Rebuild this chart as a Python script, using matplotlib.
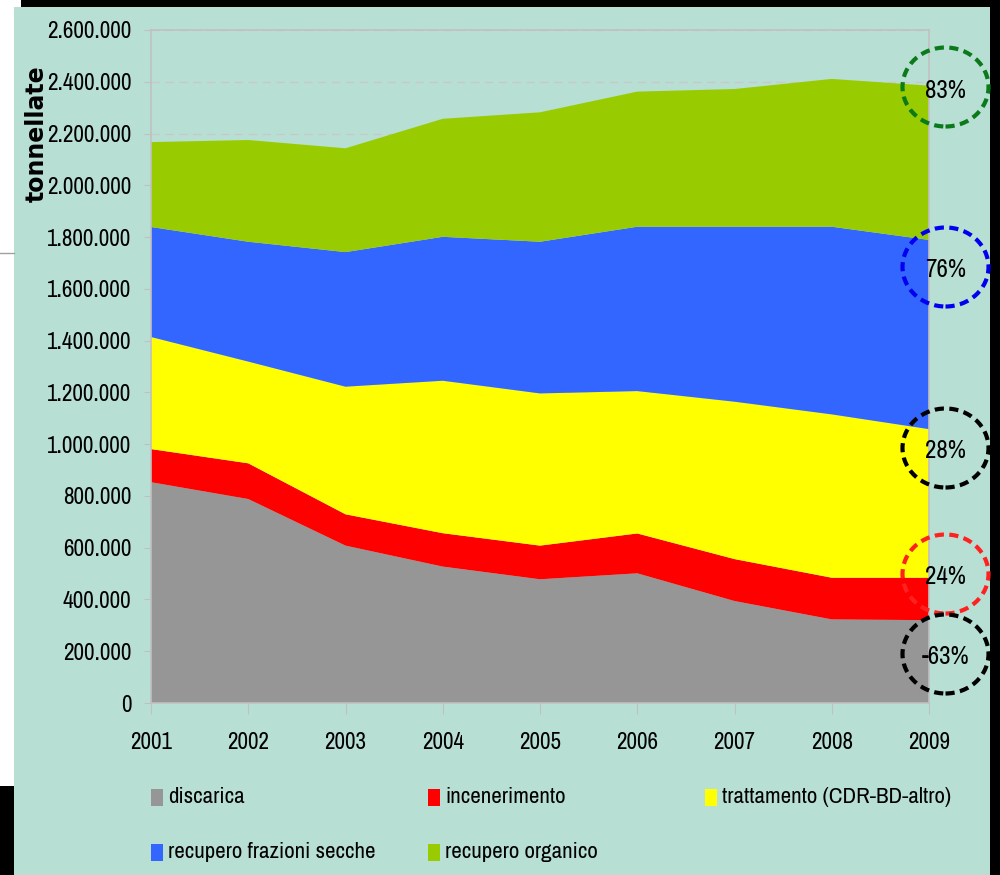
import matplotlib
matplotlib.use('Agg')
import matplotlib.pyplot as plt
from matplotlib import font_manager as fm
from matplotlib.font_manager import FontProperties
from matplotlib.textpath import TextPath
from matplotlib.patches import Rectangle, Ellipse
from matplotlib.lines import Line2D
from matplotlib.ticker import FuncFormatter, MultipleLocator

# ---- data (tonnellate) ----
years = [2001, 2002, 2003, 2004, 2005, 2006, 2007, 2008, 2009]
discarica = [853000, 788000, 608000, 527000, 478000, 501000, 394000, 323000, 320000]
incenerimento = [128000, 138000, 121000, 129000, 130000, 154000, 162000, 161000, 164000]
trattamento = [433000, 393000, 493000, 589000, 588000, 550000, 608000, 631000, 574000]
frazioni_secche = [425000, 463000, 520000, 556000, 586000, 635000, 676000, 725000, 731000]
organico = [328000, 393000, 401000, 456000, 500000, 522000, 532000, 571000, 596000]

series_labels = ["discarica", "incenerimento", "trattamento (CDR-BD-altro)",
                 "recupero frazioni secche", "recupero organico"]
series_colors = ["#969696", "#ff0000", "#ffff00", "#3366ff", "#99cc00"]

change_labels = ["83%", "76%", "28%", "24%", "-63%"]
change_colors = ["#0a7a1a", "#0000ee", "#000000", "#ff2020", "#000000"]

BG = '#b8dfd4'


# ---- pick a narrow / condensed sans font if one is installed ----
def pick_font(bold=False):
    want_w = 700 if bold else 400
    best = None
    best_score = -1
    for f in fm.fontManager.ttflist:
        name = f.name
        low = name.lower()
        if any(k in low for k in ('mono', 'serif', 'cjk', 'math', 'emoji', 'symbol')):
            if 'sans' not in low or 'mono' in low or 'cjk' in low:
                continue
        if f.style != 'normal':
            continue
        try:
            w = int(f.weight)
        except Exception:
            w = 700 if 'bold' in str(f.weight) else 400
        if abs(w - want_w) > 100:
            continue
        fname = f.fname.lower()
        score = 0
        if 'narrow' in low or 'narrow' in fname:
            score = 5
        elif 'condensed' in low or 'condensed' in fname:
            score = 4
            if 'semi' in fname or 'semi' in low:
                score = 3
            if 'extra' in fname or 'ultra' in fname:
                score = 2
        elif str(f.stretch) in ('condensed', 'semi-condensed'):
            score = 3
        if score > best_score:
            best_score = score
            best = f
    if best is not None and best_score > 0:
        return FontProperties(fname=best.fname)
    return FontProperties(family='DejaVu Sans', weight='bold' if bold else 'normal')


FP = pick_font(False)
FPB = FontProperties(family='DejaVu Sans', weight='bold')


def fit_size(text, target_px, fp, max_pt):
    tp = TextPath((0, 0), text, size=10, prop=fp)
    w10 = tp.get_extents().width  # in points at size 10
    size = 10 * (target_px * 72 / 100) / w10
    return min(size, max_pt)


W, H = 1000, 875
fig = plt.figure(figsize=(10, 8.75), dpi=100, facecolor='white')


def fx(px):
    return px / W


def fy(py):
    return 1 - py / H


# frame decorations
fig.add_artist(Rectangle((fx(14), 0), fx(990 - 14), (H - 7) / H, transform=fig.transFigure,
                         facecolor=BG, edgecolor='none', zorder=-5))
fig.add_artist(Rectangle((fx(21), fy(7)), fx(1000 - 21), 7 / H, transform=fig.transFigure,
                         facecolor='black', edgecolor='none', zorder=-4))
fig.add_artist(Rectangle((fx(990), 0), fx(10), 1, transform=fig.transFigure,
                         facecolor='black', edgecolor='none', zorder=-4))
fig.add_artist(Rectangle((0, 0), fx(14), (H - 786) / H, transform=fig.transFigure,
                         facecolor='black', edgecolor='none', zorder=-4))
fig.add_artist(Line2D([0, fx(14)], [fy(253), fy(253)], transform=fig.transFigure,
                      color='#a0a0a0', lw=1, zorder=-4))

ax = fig.add_axes([fx(151), fy(703), fx(929 - 151), (703 - 30) / H])
ax.patch.set_alpha(0)

ax.stackplot(years, discarica, incenerimento, trattamento, frazioni_secche, organico,
             colors=series_colors, labels=series_labels, zorder=2, linewidth=0)

ax.set_xlim(years[0], years[-1])
ax.set_ylim(0, 2600000)
ax.yaxis.set_major_locator(MultipleLocator(200000))
ax.yaxis.set_major_formatter(FuncFormatter(lambda v, p: f"{int(v):,}".replace(",", ".")))
ax.set_xticks(years)
ax.set_xticklabels([str(y) for y in years])
ax.grid(axis='y', color='#c8c8c8', linestyle=(0, (6, 4)), linewidth=1, zorder=1)
ax.set_axisbelow(True)

for s in ax.spines.values():
    s.set_color('#c0c0c0')
    s.set_linewidth(1.2)

tick_size = fit_size("2.600.000", 83, FP, 18)
year_size = fit_size("2001", 41, FP, 18)
ax.tick_params(axis='y', direction='out', length=5, color='#c0c0c0', pad=9,
               labelcolor='black')
ax.tick_params(axis='x', direction='out', length=8, color='#c0c0c0', pad=13,
               labelcolor='black')
for lab in ax.get_yticklabels():
    lab.set_fontproperties(FP)
    lab.set_fontsize(tick_size)
for lab in ax.get_xticklabels():
    lab.set_fontproperties(FP)
    lab.set_fontsize(year_size)

ylab_size = fit_size("tonnellate", 135, FPB, 22)
fig.text(fx(37), fy(134), 'tonnellate', rotation=90, ha='center', va='center',
         fontproperties=FPB, fontsize=ylab_size)

# legend (manual, row-major like the original)
leg_size = fit_size("recupero frazioni secche", 205, FP, 18)
leg_pos = [(151, 797), (428, 797), (705, 797), (151, 852), (428, 852)]
for (px, py), lab, col in zip(leg_pos, series_labels, series_colors):
    fig.add_artist(Rectangle((fx(px), fy(py + 9)), fx(12), 17 / H, transform=fig.transFigure,
                             facecolor=col, edgecolor='none'))
    fig.text(fx(px + 17), fy(py), lab, ha='left', va='center', fontproperties=FP,
             fontsize=leg_size, color='black')

# percentage-change circles
pct_size = fit_size("83%", 39, FP, 18)
circ_y = [87, 267, 448, 574, 654]
for cy, lab, col in zip(circ_y, change_labels, change_colors):
    fig.add_artist(Ellipse((fx(945.5), fy(cy)), fx(86), 79 / H, transform=fig.transFigure,
                           facecolor='none', edgecolor=col, linewidth=3,
                           linestyle=(0, (2.2, 1.3)), zorder=5))
    fig.text(fx(945.5), fy(cy + 3), lab, ha='center', va='center', fontproperties=FP,
             fontsize=pct_size, color='black', zorder=6)

fig.savefig('out.png', dpi=100, facecolor='white')
